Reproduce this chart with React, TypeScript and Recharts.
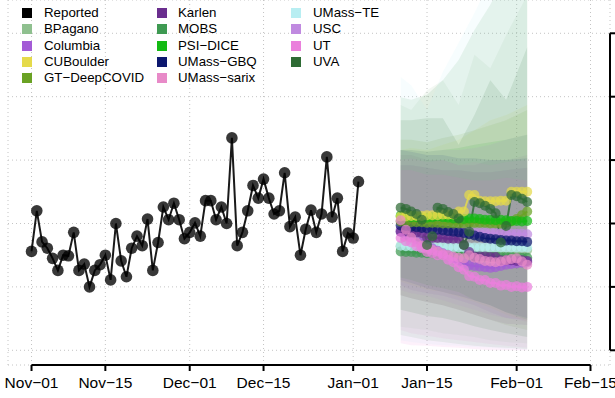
import { ComposedChart, Line, Area, XAxis, YAxis, CartesianGrid, ReferenceLine } from "recharts";

const W = 615;
const H = 398;
const FONT = "'Liberation Sans', Arial, Helvetica, sans-serif";

// days since Nov-01
const TICK_DAYS = [0, 14, 30, 44, 61, 75, 92, 106];
const TICK_LABELS = ["Nov−01", "Nov−15", "Dec−01", "Dec−15", "Jan−01", "Jan−15", "Feb−01", "Feb−15"];
const Y_TICKS = [0, 100, 200, 300, 400, 500];
const X_DOMAIN = [-4.46, 109.7];
const Y_DOMAIN = [-23.2, 552.5];

const REPORTED = [
  156, 220, 171, 161, 145, 126, 150, 149, 186, 126, 136, 100, 126, 135, 150, 111, 200, 141, 116, 161,
  180, 165, 207, 126, 170, 226, 206, 232, 206, 176, 186, 201, 180, 236, 236, 206, 226, 200, 335, 165,
  186, 220, 260, 240, 270, 240, 215, 220, 280, 195, 210, 150, 191, 221, 186, 215, 305, 210, 240, 156,
  185, 177, 266,
];

const FORECAST_START = 70;
const BAND_DAYS = [70, 72, 75, 78, 81, 84, 87, 90, 94];

// point forecasts, one value per day from FORECAST_START
const BPAGANO = [164, 164, 163, 163, 163, 163, 162, 162, 162, 162, 161, 161, 161, 161, 160, 160, 160, 160, 160, 159, 159, 159, 159, 158, 158];
const COLUMBIA = [187, 183, 179, 175, 170, 166, 161, 157, 153, 150, 146, 142, 138, 134, 133, 132, 131, 130, 131, 133, 135, 136, 137, 138, 139];
const CUBOULDER = [211, 211, 212, 212, 212, 213, 213, 213, 214, 214, 214, 219, 219, 245, 245, 236, 235, 235, 235, 236, 236, 250, 250, 250, 250];
const GT_DEEPCOVID = [203, 203, 202, 202, 202, 201, 201, 201, 200, 200, 200, 200, 200, 201, 201, 201, 201, 200, 200, 200, 201, 203, 207, 213, 219];
const KARLEN = [187, 187, 186, 186, 185, 178, 177, 177, 177, 176, 176, 176, 166, 155, 148, 148, 148, 147, 147, 142, 142, 142, 141, 142, 141];
const MOBS = [156, 155, 155, 154, 154, 153, 153, 152, 152, 151, 151, 150, 150, 150, 149, 149, 148, 148, 148, 147, 147, 147, 146, 146, 146];
const PSI_DICE = [212, 211, 210, 210, 209, 209, 210, 211, 210, 209, 208, 208, 207, 208, 208, 207, 206, 206, 205, 206, 205, 204, 204, 203, 204];
const UMASS_GBQ = [197, 196, 195, 194, 193, 192, 191, 190, 189, 188, 187, 186, 185, 183, 181, 179, 177, 176, 175, 174, 173, 173, 172, 172, 171];
const UMASS_SARIX = [205, 190, 178, 170, 165, 160, 158, 156, 152, 150, 148, 146, 145, 150, 146, 144, 141, 140, 139, 140, 142, 144, 145, 140, 135];
const UMASS_TE = [165, 164, 164, 164, 163, 163, 163, 163, 163, 162, 162, 162, 162, 162, 162, 162, 162, 162, 162, 162, 162, 162, 162, 162, 162];
const USC = [190, 189, 189, 188, 188, 188, 187, 187, 187, 186, 186, 186, 186, 186, 185, 185, 185, 185, 185, 184, 184, 184, 184, 184, 183];
const UT = [177, 172, 170, 164, 161, 155, 153, 150, 150, 143, 139, 131, 127, 117, 116, 111, 111, 106, 106, 102, 103, 100, 101, 99, 100];
const UVA = [225, 223, 219, 215, 206, 166, 180, 225, 223, 218, 215, 208, 166, 187, 234, 232, 228, 223, 216, 170, 196, 245, 243, 239, 234];

// interval bounds at BAND_DAYS
const BPAGANO_LO = [37, 35, 32, 27, 24, 21, 16, 13, 11];
const BPAGANO_HI = [387, 379, 410, 426, 387, 466, 445, 497, 560];
const COLUMBIA_LO = [103, 95, 90, 86, 79, 71, 60, 51, 48];
const COLUMBIA_HI = [308, 308, 300, 300, 292, 292, 300, 300, 308];
const CUBOULDER_LO = [108, 103, 95, 92, 84, 76, 67, 56, 45];
const CUBOULDER_HI = [316, 319, 316, 324, 332, 347, 363, 371, 387];
const GT_LO = [87, 82, 76, 71, 64, 56, 48, 40, 32];
const GT_HI = [332, 332, 328, 335, 340, 347, 355, 363, 379];
const KARLEN_LO = [87, 82, 76, 71, 64, 56, 48, 42, 40];
const KARLEN_HI = [292, 292, 288, 284, 284, 281, 281, 284, 288];
const MOBS_LO = [24, 21, 16, 13, 10, 7, 5, 4, 2];
const MOBS_HI = [399, 395, 403, 426, 458, 505, 545, 592, 647];
const PSI_LO = [115, 111, 103, 98, 92, 79, 71, 60, 48];
const PSI_HI = [316, 316, 313, 316, 319, 324, 328, 332, 340];
const GBQ_LO = [111, 106, 98, 92, 86, 79, 71, 60, 51];
const GBQ_HI = [316, 313, 308, 308, 303, 303, 300, 300, 303];
const SARIX_LO = [32, 27, 23, 19, 16, 13, 10, 7, 4];
const SARIX_HI = [300, 303, 297, 300, 292, 297, 292, 297, 300];
const TE_LO = [16, 13, 10, 8, 7, 5, 4, 2, 1];
const TE_HI = [431, 418, 379, 439, 485, 532, 584, 631, 695];
const USC_LO = [95, 90, 86, 79, 71, 64, 56, 51, 45];
const USC_HI = [316, 316, 313, 316, 316, 319, 324, 332, 340];
const UT_LO = [11, 8, 7, 5, 4, 2, 0, 0, 0];
const UT_HI = [284, 284, 277, 277, 272, 268, 268, 272, 268];
const UVA_LO = [64, 60, 54, 51, 45, 38, 32, 27, 21];
const UVA_HI = [363, 363, 366, 366, 324, 371, 426, 395, 478];

const MODELS = [
  { name: "BPagano", color: "#8fc08f", pts: BPAGANO, lo: BPAGANO_LO, hi: BPAGANO_HI },
  { name: "Columbia", color: "#a35bd6", pts: COLUMBIA, lo: COLUMBIA_LO, hi: COLUMBIA_HI },
  { name: "CUBoulder", color: "#e5da4a", pts: CUBOULDER, lo: CUBOULDER_LO, hi: CUBOULDER_HI },
  { name: "GT−DeepCOVID", color: "#6aa224", pts: GT_DEEPCOVID, lo: GT_LO, hi: GT_HI },
  { name: "Karlen", color: "#6a2e8e", pts: KARLEN, lo: KARLEN_LO, hi: KARLEN_HI },
  { name: "MOBS", color: "#3e9a52", pts: MOBS, lo: MOBS_LO, hi: MOBS_HI },
  { name: "PSI−DICE", color: "#14ba14", pts: PSI_DICE, lo: PSI_LO, hi: PSI_HI },
  { name: "UMass−GBQ", color: "#0c176e", pts: UMASS_GBQ, lo: GBQ_LO, hi: GBQ_HI },
  { name: "UMass−sarix", color: "#e88ac8", pts: UMASS_SARIX, lo: SARIX_LO, hi: SARIX_HI },
  { name: "UMass−TE", color: "#b8eef2", pts: UMASS_TE, lo: TE_LO, hi: TE_HI },
  { name: "USC", color: "#c08ae0", pts: USC, lo: USC_LO, hi: USC_HI },
  { name: "UT", color: "#ea80dc", pts: UT, lo: UT_LO, hi: UT_HI },
  { name: "UVA", color: "#2e6b34", pts: UVA, lo: UVA_LO, hi: UVA_HI },
];

// order the point series are stacked in
const POINT_ORDER = ["BPagano", "MOBS", "UMass−TE", "USC", "Columbia", "Karlen", "UMass−GBQ", "GT−DeepCOVID", "PSI−DICE", "CUBoulder", "UMass−sarix", "UT", "UVA"];

const LEGEND = [{ name: "Reported", color: "#000000" }, ...MODELS.map((m) => ({ name: m.name, color: m.color }))];

const reportedData = REPORTED.map((v, i) => ({ d: i, v }));
const pointData = (vals: number[]) => vals.map((v, i) => ({ d: FORECAST_START + i, v }));
const bandData = (lo: number[], hi: number[]) => BAND_DAYS.map((d, i) => ({ d, r: [lo[i], hi[i]] }));

function ChartLegend() {
  const sqX = [22, 157, 291];
  const txX = [44, 178, 313];
  return (
    <div style={{ position: "absolute", left: 0, top: 0, fontFamily: FONT, fontSize: 13.3, color: "#000" }}>
      {LEGEND.map((e, i) => {
        const col = Math.floor(i / 5);
        const cy = 12.7 + (i % 5) * 16.4;
        return (
          <div key={e.name}>
            <div style={{ position: "absolute", left: sqX[col], top: cy - 5, width: 10, height: 10, background: e.color }} />
            <div style={{ position: "absolute", left: txX[col], top: cy - 8, lineHeight: "16px", whiteSpace: "nowrap" }}>
              {e.name}
            </div>
          </div>
        );
      })}
    </div>
  );
}

export default function App() {
  return (
    <div style={{ position: "fixed", left: 0, top: 0, width: W, height: H, background: "#fff", overflow: "hidden" }}>
      <ComposedChart width={W} height={H} margin={{ top: 0, right: 0, bottom: 0, left: 8 }}>
        <CartesianGrid stroke="#c4c4c4" strokeDasharray="1 3" />
        <XAxis
          type="number"
          dataKey="d"
          domain={X_DOMAIN}
          allowDataOverflow
          ticks={TICK_DAYS}
          interval={0}
          tickFormatter={(d: number) => TICK_LABELS[TICK_DAYS.indexOf(d)]}
          height={33}
          axisLine={false}
          tickLine={{ stroke: "#000", strokeWidth: 2 }}
          tickSize={6}
          tickMargin={6}
          tick={{ fill: "#000", fontSize: 15.5, fontFamily: FONT }}
        />
        <YAxis
          orientation="right"
          type="number"
          domain={Y_DOMAIN}
          allowDataOverflow
          ticks={Y_TICKS}
          width={5}
          axisLine={false}
          tickLine={{ stroke: "#000", strokeWidth: 2 }}
          tickSize={6}
          tickFormatter={() => ""}
        />
        {MODELS.map((m) => (
          <Area
            key={"band-" + m.name}
            data={bandData(m.lo, m.hi)}
            dataKey="r"
            type="linear"
            stroke="none"
            fill={m.color}
            fillOpacity={0.11}
            dot={false}
            activeDot={false}
            isAnimationActive={false}
          />
        ))}
        <Line
          data={reportedData}
          dataKey="v"
          type="linear"
          stroke="#1a1a1a"
          strokeWidth={2}
          dot={{ r: 5.8, fill: "#000", fillOpacity: 0.78, stroke: "none" }}
          activeDot={false}
          isAnimationActive={false}
        />
        {POINT_ORDER.map((name) => {
          const m = MODELS.find((x) => x.name === name)!;
          return (
            <Line
              key={"pts-" + m.name}
              data={pointData(m.pts)}
              dataKey="v"
              type="linear"
              stroke={m.color}
              strokeOpacity={0.85}
              strokeWidth={2}
              dot={{ r: 5, fill: m.color, fillOpacity: 0.72, stroke: "none" }}
              activeDot={false}
              isAnimationActive={false}
            />
          );
        })}
        <ReferenceLine
          segment={[{ x: TICK_DAYS[0], y: Y_DOMAIN[0] }, { x: TICK_DAYS[TICK_DAYS.length - 1], y: Y_DOMAIN[0] }]}
          stroke="#000"
          strokeWidth={2}
          ifOverflow="visible"
        />
        <ReferenceLine
          segment={[{ x: X_DOMAIN[1], y: Y_TICKS[0] }, { x: X_DOMAIN[1], y: Y_TICKS[Y_TICKS.length - 1] }]}
          stroke="#000"
          strokeWidth={2}
          ifOverflow="visible"
        />
      </ComposedChart>
      <ChartLegend />
    </div>
  );
}
